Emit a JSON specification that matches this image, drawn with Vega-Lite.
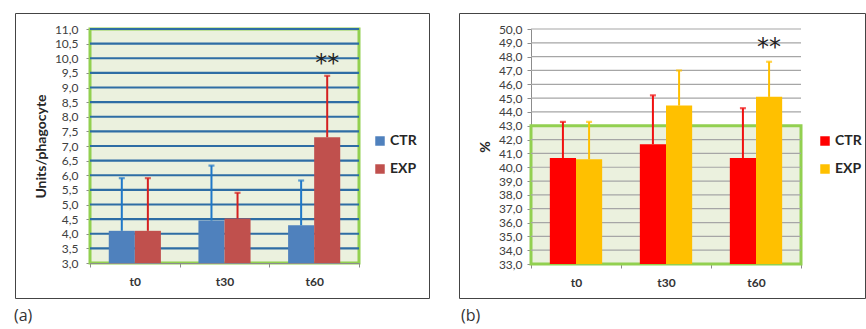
{
  "$schema": "https://vega.github.io/schema/vega-lite/v6.json",
  "padding": {"left": 13, "top": 12, "right": 0, "bottom": 0},
  "background": "white",
  "config": {
    "font": "Lato",
    "view": {"stroke": "#444444", "strokeWidth": 1},
    "axis": {"labelFont": "Lato", "titleFont": "Lato", "labelColor": "#404040", "titleColor": "#262626", "domainColor": "#8c8c8c", "tickColor": "#8c8c8c", "grid": false}
  },
  "datasets": {
    "a": [
      {"cat": "t0", "grp": "CTR", "v": 4.1, "e": 5.9},
      {"cat": "t0", "grp": "EXP", "v": 4.1, "e": 5.9},
      {"cat": "t30", "grp": "CTR", "v": 4.45, "e": 6.33},
      {"cat": "t30", "grp": "EXP", "v": 4.52, "e": 5.4},
      {"cat": "t60", "grp": "CTR", "v": 4.29, "e": 5.82},
      {"cat": "t60", "grp": "EXP", "v": 7.3, "e": 9.4}
    ],
    "b": [
      {"cat": "t0", "grp": "CTR", "v": 40.67, "e": 43.28},
      {"cat": "t0", "grp": "EXP", "v": 40.57, "e": 43.28},
      {"cat": "t30", "grp": "CTR", "v": 41.66, "e": 45.2},
      {"cat": "t30", "grp": "EXP", "v": 44.46, "e": 47.0},
      {"cat": "t60", "grp": "CTR", "v": 40.67, "e": 44.27},
      {"cat": "t60", "grp": "EXP", "v": 45.09, "e": 47.63}
    ],
    "gridA": [{"g": 3.5}, {"g": 4.0}, {"g": 4.5}, {"g": 5.0}, {"g": 5.5}, {"g": 6.0}, {"g": 6.5}, {"g": 7.0}, {"g": 7.5}, {"g": 8.0}, {"g": 8.5}, {"g": 9.0}, {"g": 9.5}, {"g": 10.0}, {"g": 10.5}, {"g": 11.0}],
    "gridB": [{"g": 34}, {"g": 35}, {"g": 36}, {"g": 37}, {"g": 38}, {"g": 39}, {"g": 40}, {"g": 41}, {"g": 42}, {"g": 43}, {"g": 44}, {"g": 45}, {"g": 46}, {"g": 47}, {"g": 48}, {"g": 49}, {"g": 50}],
    "starA": [{"cat": "t60", "grp": "EXP", "y": 9.8, "t": "**"}],
    "starB": [{"cat": "t60", "grp": "EXP", "y": 48.6, "t": "**"}]
  },
  "hconcat": [
    {
      "width": 414,
      "height": 285,
      "title": {"text": "(a)", "orient": "bottom", "anchor": "start", "offset": 10, "dx": -1, "fontSize": 16, "font": "Open Sans", "fontWeight": "normal", "color": "#333333"},
      "encoding": {
        "x": {"field": "cat", "type": "nominal", "sort": ["t0", "t30", "t60"],
          "scale": {"domain": ["t0", "t30", "t60"], "range": [75, 344], "paddingInner": 0, "paddingOuter": 0},
          "axis": {"title": null, "labelAngle": 0, "offset": -35, "tickBand": "extent", "tickSize": 4, "labelPadding": 9, "labelFontSize": 12, "labelFontWeight": "bold", "labelColor": "#333333"}},
        "y": {"type": "quantitative",
          "scale": {"domain": [3, 11], "range": [250, 16], "zero": false, "nice": false},
          "axis": {"title": "Units/phagocyte", "offset": -75, "values": [3, 3.5, 4, 4.5, 5, 5.5, 6, 6.5, 7, 7.5, 8, 8.5, 9, 9.5, 10, 10.5, 11], "labelExpr": "replace(format(datum.value, '.1f'), '.', ',')", "tickSize": 4, "labelPadding": 8, "labelFontSize": 12, "titleFontSize": 14, "titleFontWeight": "bold", "titlePadding": 6}}
      },
      "layer": [
        {
          "data": {"name": "starA"},
          "mark": {"type": "rect", "fill": "#EBF1DE", "stroke": "#92D050", "strokeWidth": 3},
          "encoding": {
            "x": {"datum": "t0", "bandPosition": 0},
            "x2": {"datum": "t60", "bandPosition": 1},
            "y": {"datum": 3},
            "y2": {"datum": 11}
          }
        },
        {
          "data": {"name": "gridA"},
          "mark": {"type": "rule", "stroke": "#2E6DA4", "strokeWidth": 2.2},
          "encoding": {
            "x": {"datum": "t0", "bandPosition": 0},
            "x2": {"datum": "t60", "bandPosition": 1},
            "y": {"field": "g", "type": "quantitative"}
          }
        },
        {
          "data": {"name": "a"},
          "mark": {"type": "bar"},
          "encoding": {
            "xOffset": {"field": "grp", "type": "nominal", "scale": {"domain": ["CTR", "EXP"], "paddingInner": 0, "paddingOuter": 0.72}},
            "y": {"field": "v", "type": "quantitative"},
            "y2": {"datum": 3},
            "color": {"field": "grp", "type": "nominal", "scale": {"domain": ["CTR", "EXP"], "range": ["#4F81BD", "#C0504D"]},
              "legend": {"title": null, "orient": "none", "legendX": 358, "legendY": 121, "symbolType": "square", "symbolSize": 90, "symbolStrokeWidth": 0, "labelFontSize": 14, "labelFontWeight": "bold", "labelColor": "#262626", "labelFont": "Lato", "rowPadding": 14, "labelOffset": 3, "padding": 0}}
          }
        },
        {
          "data": {"name": "a"},
          "mark": {"type": "rule", "strokeWidth": 2},
          "encoding": {
            "xOffset": {"field": "grp", "type": "nominal"},
            "y": {"field": "v", "type": "quantitative"},
            "y2": {"field": "e"},
            "color": {"condition": {"test": "datum.grp === 'CTR'", "value": "#1F78C8"}, "value": "#D42020"}
          }
        },
        {
          "data": {"name": "a"},
          "mark": {"type": "tick", "size": 6, "thickness": 2.2},
          "encoding": {
            "xOffset": {"field": "grp", "type": "nominal"},
            "y": {"field": "e", "type": "quantitative"},
            "color": {"condition": {"test": "datum.grp === 'CTR'", "value": "#1F78C8"}, "value": "#D42020"}
          }
        },
        {
          "data": {"name": "starA"},
          "mark": {"type": "text", "fontSize": 24, "font": "DejaVu Sans", "color": "#222222", "baseline": "middle"},
          "encoding": {
            "xOffset": {"field": "grp", "type": "nominal"},
            "y": {"field": "y", "type": "quantitative"},
            "text": {"field": "t"}
          }
        }
      ]
    },
    {
      "width": 406,
      "height": 285,
      "title": {"text": "(b)", "orient": "bottom", "anchor": "start", "offset": 10, "dx": 2, "fontSize": 16, "font": "Open Sans", "fontWeight": "normal", "color": "#333333"},
      "encoding": {
        "x": {"field": "cat", "type": "nominal", "sort": ["t0", "t30", "t60"],
          "scale": {"domain": ["t0", "t30", "t60"], "range": [72, 342], "paddingInner": 0, "paddingOuter": 0},
          "axis": {"title": null, "labelAngle": 0, "offset": -34, "tickBand": "extent", "tickSize": 4, "labelPadding": 9, "labelFontSize": 12, "labelFontWeight": "bold", "labelColor": "#333333"}},
        "y": {"type": "quantitative",
          "scale": {"domain": [33, 50], "range": [251, 16], "zero": false, "nice": false},
          "axis": {"title": "%", "offset": -72, "values": [33, 34, 35, 36, 37, 38, 39, 40, 41, 42, 43, 44, 45, 46, 47, 48, 49, 50], "labelExpr": "replace(format(datum.value, '.1f'), '.', ',')", "tickSize": 4, "labelPadding": 5, "labelFontSize": 12, "titleFontSize": 14, "titleFontWeight": "bold", "titlePadding": 6}}
      },
      "layer": [
        {
          "data": {"name": "gridB"},
          "mark": {"type": "rule", "stroke": "#A6A6A6", "strokeWidth": 1.2},
          "encoding": {
            "x": {"datum": "t0", "bandPosition": 0},
            "x2": {"datum": "t60", "bandPosition": 1},
            "y": {"field": "g", "type": "quantitative"}
          }
        },
        {
          "data": {"name": "starB"},
          "mark": {"type": "rect", "fill": "#EBF1DE", "fillOpacity": 1, "stroke": "#92D050", "strokeWidth": 3},
          "encoding": {
            "x": {"datum": "t0", "bandPosition": 0},
            "x2": {"datum": "t60", "bandPosition": 1},
            "y": {"datum": 33},
            "y2": {"datum": 43}
          }
        },
        {
          "data": {"name": "gridB"},
          "transform": [{"filter": "datum.g < 43"}],
          "mark": {"type": "rule", "stroke": "#A6A6A6", "strokeWidth": 1.2},
          "encoding": {
            "x": {"datum": "t0", "bandPosition": 0},
            "x2": {"datum": "t60", "bandPosition": 1},
            "y": {"field": "g", "type": "quantitative"}
          }
        },
        {
          "data": {"name": "b"},
          "mark": {"type": "bar"},
          "encoding": {
            "xOffset": {"field": "grp", "type": "nominal", "scale": {"domain": ["CTR", "EXP"], "paddingInner": 0, "paddingOuter": 0.72}},
            "y": {"field": "v", "type": "quantitative"},
            "y2": {"datum": 33},
            "color": {"field": "grp", "type": "nominal", "scale": {"domain": ["CTR", "EXP"], "range": ["#FF0000", "#FFC000"]},
              "legend": {"title": null, "orient": "none", "legendX": 359, "legendY": 121, "symbolType": "square", "symbolSize": 90, "symbolStrokeWidth": 0, "labelFontSize": 14, "labelFontWeight": "bold", "labelColor": "#262626", "labelFont": "Lato", "rowPadding": 14, "labelOffset": 3, "padding": 0}}
          }
        },
        {
          "data": {"name": "b"},
          "mark": {"type": "rule", "strokeWidth": 2},
          "encoding": {
            "xOffset": {"field": "grp", "type": "nominal"},
            "y": {"field": "v", "type": "quantitative"},
            "y2": {"field": "e"},
            "color": {"condition": {"test": "datum.grp === 'CTR'", "value": "#F01010"}, "value": "#FFC000"}
          }
        },
        {
          "data": {"name": "b"},
          "mark": {"type": "tick", "size": 6, "thickness": 2.2},
          "encoding": {
            "xOffset": {"field": "grp", "type": "nominal"},
            "y": {"field": "e", "type": "quantitative"},
            "color": {"condition": {"test": "datum.grp === 'CTR'", "value": "#F01010"}, "value": "#FFC000"}
          }
        },
        {
          "data": {"name": "starB"},
          "mark": {"type": "text", "fontSize": 24, "font": "DejaVu Sans", "color": "#222222", "baseline": "middle"},
          "encoding": {
            "xOffset": {"field": "grp", "type": "nominal"},
            "y": {"field": "y", "type": "quantitative"},
            "text": {"field": "t"}
          }
        }
      ]
    }
  ],
  "spacing": 28,
  "resolve": {"scale": {"color": "independent", "x": "independent", "y": "independent", "xOffset": "independent"}, "legend": {"color": "independent"}}
}
